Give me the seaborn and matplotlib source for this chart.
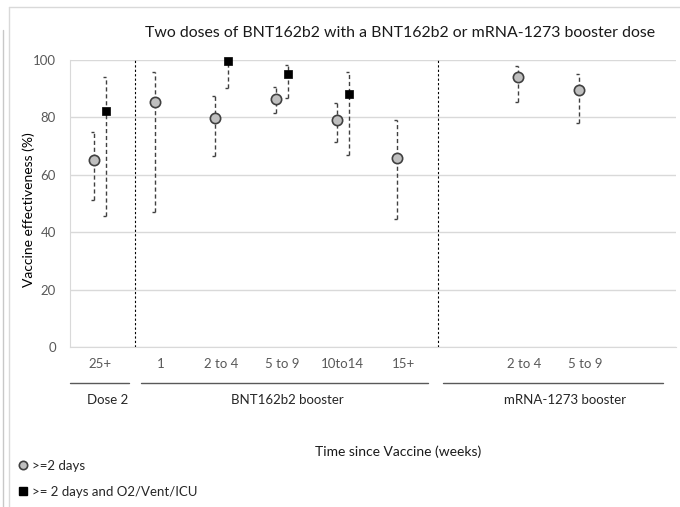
import numpy as np
import pandas as pd
import matplotlib
matplotlib.use("Agg")
import matplotlib.pyplot as plt
from matplotlib.lines import Line2D
import seaborn as sns

# --- data ---
slot_labels = ["25+", "1", "2 to 4", "5 to 9", "10to14", "15+", "", "2 to 4", "5 to 9", ""]
groups = ["Dose 2", "BNT162b2 booster", "mRNA-1273 booster"]

ve_any = [65.1, 85.2, 79.7, 86.5, 79.2, 65.8, 94.0, 89.6]
ve_any_lo = [51.2, 47.1, 66.5, 81.6, 71.4, 44.5, 85.2, 78.1]
ve_any_hi = [74.8, 95.9, 87.5, 90.5, 85.1, 79.1, 98.0, 95.2]

ve_icu = [82.4, np.nan, 99.8, 95.2, 88.1, np.nan, np.nan, np.nan]
ve_icu_lo = [45.7, np.nan, 90.3, 86.6, 66.9, np.nan, np.nan, np.nan]
ve_icu_hi = [94.2, np.nan, 100.0, 98.3, 95.8, np.nan, np.nan, np.nan]

# slot index of each data category (blank slots are gaps)
slots = [i for i, s in enumerate(slot_labels) if s]

df_any = pd.DataFrame({"x": np.array(slots) - 0.1, "ve": ve_any, "lo": ve_any_lo, "hi": ve_any_hi})
df_icu = pd.DataFrame({"x": np.array(slots) + 0.1, "ve": ve_icu, "lo": ve_icu_lo, "hi": ve_icu_hi}).dropna()

sns.set_style("white")
plt.rcParams["font.family"] = ["Lato", "DejaVu Sans"]

fig = plt.figure(figsize=(6.8, 5.07), dpi=100)
ax = fig.add_axes([70 / 680, 1 - 347 / 507, 606 / 680, 287 / 507])

ax.set_xlim(-0.5, len(slot_labels) - 0.5)
ax.set_ylim(0, 100)
ax.set_yticks([0, 20, 40, 60, 80, 100])
ax.yaxis.grid(True, color="#d9d9d9", lw=1)
ax.set_axisbelow(True)
for side in ["top", "right"]:
    ax.spines[side].set_visible(False)
for side in ["left", "bottom"]:
    ax.spines[side].set_color("#d9d9d9")
ax.set_xticks(range(len(slot_labels)))
ax.set_xticklabels(slot_labels)
ax.tick_params(axis="both", length=0, labelsize=9.5, colors="#595959")
ax.tick_params(axis="x", pad=8)
ax.tick_params(axis="y", pad=10)

# separators between groups
for xs in [0.57, 5.57]:
    ax.axvline(xs, color="black", lw=0.8, ls=(0, (2, 2)), zorder=1)

# error bars
for d in [df_any, df_icu]:
    ax.vlines(d["x"], d["lo"], d["hi"], colors="#404040", lw=1, linestyles=(0, (3, 2)), zorder=2)
    ax.hlines(d["lo"], d["x"] - 0.05, d["x"], colors="#404040", lw=1, zorder=2, clip_on=False)
    ax.hlines(d["hi"], d["x"] - 0.05, d["x"], colors="#404040", lw=1, zorder=2, clip_on=False)

sns.scatterplot(data=df_any, x="x", y="ve", ax=ax, marker="o", s=55, color="#bfbfbf",
                edgecolor="#404040", linewidth=1.2, zorder=3, clip_on=False)
sns.scatterplot(data=df_icu, x="x", y="ve", ax=ax, marker="s", s=32, color="black",
                edgecolor="black", linewidth=0.5, zorder=3, clip_on=False)
ax.set_xlabel("")
ax.set_ylabel("Vaccine effectiveness (%)", fontsize=10, color="black")
ax.yaxis.set_label_coords(-35 / 606, 0.48)

# group brackets below the tick labels
trans = ax.get_xaxis_transform()
group_spans = [(-0.5, 0.47), (0.67, 5.41), (5.66, 9.29)]
group_centers = [0.12, 3.08, 7.67]
for (a, b), c, name in zip(group_spans, group_centers, groups):
    ax.plot([a, b], [-0.125, -0.125], color="#595959", lw=1, transform=trans, clip_on=False)
    ax.text(c, -0.185, name, transform=trans, ha="center", va="center", fontsize=9.5, color="#262626")

fig.text(400 / 680, 1 - 33 / 507, "Two doses of BNT162b2 with a BNT162b2 or mRNA-1273 booster dose",
         ha="center", va="center", fontsize=11.4, color="#1a1a1a")
fig.text(398 / 680, 1 - 452 / 507, "Time since Vaccine (weeks)", ha="center", va="center",
         fontsize=10, color="#1a1a1a")

# frame lines of the original slide
fig.add_artist(Line2D([3 / 680, 3 / 680], [0, 1 - 30 / 507], color="#c8c8c8", lw=1))
fig.add_artist(Line2D([9 / 680, 9 / 680], [0, 1 - 7 / 507], color="#d9d9d9", lw=1))
fig.add_artist(Line2D([9 / 680, 1], [1 - 7 / 507, 1 - 7 / 507], color="#d9d9d9", lw=1))

handles = [
    Line2D([], [], ls="none", marker="o", markersize=6, markerfacecolor="#bfbfbf",
           markeredgecolor="#404040", markeredgewidth=1.2),
    Line2D([], [], ls="none", marker="s", markersize=5.5, color="black"),
]
fig.legend(handles, [">=2 days", ">= 2 days and O2/Vent/ICU"], loc="lower left",
           bbox_to_anchor=(8 / 680, 0.0), frameon=False, fontsize=9.5,
           handlelength=0.8, handletextpad=0.3, labelspacing=1.05, borderpad=0.2)

fig.savefig("out.png", dpi=100)
